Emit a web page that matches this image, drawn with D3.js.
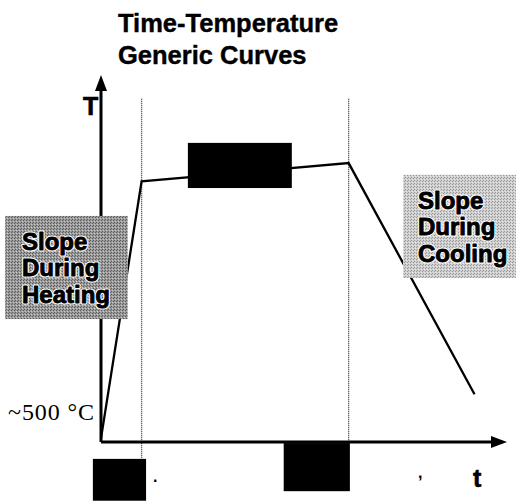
<!DOCTYPE html>
<meta charset="utf-8">
<style>
  body { margin: 0; background: #fff; }
  text { font-family: "Liberation Sans", Arial, sans-serif; }
  text.serif { font-family: "Liberation Serif", "Times New Roman", serif; }
</style>
<svg width="518" height="501"></svg>
<script src="https://d3js.org/d3.v7.min.js"></script>
<script>

// curve breakpoints: start, end of heating, end of hold, end of cooling
var times = [0, 10, 61, 92];
var temps = [1, 71, 76, 13];
var guideTimes = [10, 61];
var titleLines = ["Time-Temperature", "Generic Curves"];
var heatLabel = ["Slope", "During", "Heating"];
var coolLabel = ["Slope", "During", "Cooling"];
var startLabel = "~500 °C";
// annotation boxes in data units [t0, t1, T0, T1]
var heatBox = [-23.6, 6.6, 33.5, 61.6];
var coolBox = [74.4, 102.2, 44.7, 72.8];
var blackBoxes = [[21.4, 47, 69.2, 81.5], [-2, 11.1, -16, -4.6], [45, 61.3, -13.4, -0.3]];

var svg = d3.select("svg"),
    width = +svg.attr("width"),
    height = +svg.attr("height");

var x = d3.scaleLinear().domain([0, 100]).range([101, 507]);
var y = d3.scaleLinear().domain([0, 100]).range([442, 75]);

var defs = svg.append("defs");
function grain(id, dark, light) {
  var p = defs.append("pattern").attr("id", id)
      .attr("width", 3).attr("height", 3).attr("patternUnits", "userSpaceOnUse");
  p.append("rect").attr("width", 3).attr("height", 3).attr("fill", light);
  p.append("rect").attr("width", 1).attr("height", 1).attr("fill", dark);
  p.append("rect").attr("x", 2).attr("y", 1).attr("width", 1).attr("height", 1).attr("fill", dark);
  p.append("rect").attr("x", 1).attr("y", 2).attr("width", 1).attr("height", 1).attr("fill", "#fff").attr("opacity", 0.5);
}
grain("heatGrain", "#5e5e5e", "#9a9a9a");
grain("coolGrain", "#999", "#cfcfcf");

// title
svg.append("g").selectAll("text")
  .data(titleLines).enter().append("text")
    .attr("x", 118)
    .attr("y", function(d, i) { return 32 + i * 32; })
    .attr("font-size", 25.5)
    .attr("font-weight", "bold")
    .attr("stroke", "#000")
    .attr("stroke-width", 0.4)
    .text(function(d) { return d; });

// dotted guides
svg.append("g").selectAll("line")
  .data(guideTimes).enter().append("line")
    .attr("x1", function(d) { return x(d); })
    .attr("x2", function(d) { return x(d); })
    .attr("y1", y(93.5))
    .attr("y2", function(d, i) { return i == 0 ? y(-4.5) : y(0); })
    .attr("stroke", "#333")
    .attr("stroke-width", 1.3)
    .attr("stroke-dasharray", "1,1");

// axes with arrow heads
svg.append("line")
    .attr("x1", x(0)).attr("y1", y(0)).attr("x2", x(0)).attr("y2", y(97))
    .attr("stroke", "#000").attr("stroke-width", 3);
svg.append("line")
    .attr("x1", x(0)).attr("y1", y(0)).attr("x2", x(97)).attr("y2", y(0))
    .attr("stroke", "#000").attr("stroke-width", 3);
svg.append("path")
    .attr("d", "M" + x(0) + "," + y(100) + "l-6,16h12z")
    .attr("fill", "#000");
svg.append("path")
    .attr("d", "M" + x(100) + "," + y(0) + "l-16,-6v12z")
    .attr("fill", "#000");

// curve
var line = d3.line()
    .x(function(d) { return x(d[0]); })
    .y(function(d) { return y(d[1]); });
svg.append("path")
    .datum(d3.zip(times, temps))
    .attr("d", line)
    .attr("fill", "none")
    .attr("stroke", "#000")
    .attr("stroke-width", 2.3);

// shaded label boxes, pasted over the curve and axis
function labelBox(box, fill, lines, tx) {
  svg.append("rect")
      .attr("x", x(box[0])).attr("y", y(box[3]))
      .attr("width", x(box[1]) - x(box[0]))
      .attr("height", y(box[2]) - y(box[3]))
      .attr("fill", "url(#" + fill + ")");
  var g = svg.append("g");
  [["#fff", 3], ["#000", 0.9]].forEach(function(s) {
    g.append("g").selectAll("text")
      .data(lines).enter().append("text")
        .attr("x", tx)
        .attr("y", function(d, i) { return y(box[3]) + 34 + i * 26.5; })
        .attr("font-size", 24)
        .attr("font-weight", "bold")
        .attr("fill", "#000")
        .attr("stroke", s[0])
        .attr("stroke-width", s[1])
        .attr("stroke-linejoin", "round")
        .text(function(d) { return d; });
  });
}
labelBox(heatBox, "heatGrain", heatLabel, 22);
labelBox(coolBox, "coolGrain", coolLabel, 418);

// blacked-out labels
svg.append("g").selectAll("rect")
  .data(blackBoxes).enter().append("rect")
    .attr("x", function(d) { return x(d[0]); })
    .attr("y", function(d) { return y(d[3]); })
    .attr("width", function(d) { return x(d[1]) - x(d[0]); })
    .attr("height", function(d) { return y(d[2]) - y(d[3]); })
    .attr("fill", "#000");

// axis labels
svg.append("text")
    .attr("x", 83).attr("y", 115)
    .attr("font-size", 25).attr("font-weight", "bold")
    .attr("stroke", "#000").attr("stroke-width", 0.6)
    .text("T");
svg.append("text")
    .attr("x", 473).attr("y", 487)
    .attr("font-size", 25).attr("font-weight", "bold")
    .attr("stroke", "#000").attr("stroke-width", 0.6)
    .text("t");
svg.append("text")
    .attr("class", "serif")
    .attr("x", 8).attr("y", 420)
    .attr("font-size", 24)
    .attr("textLength", 86)
    .text(startLabel);

// scan specks
svg.append("text").attr("x", 153).attr("y", 482).attr("font-size", 16).attr("font-weight", "bold").text(".");
svg.append("text").attr("x", 418).attr("y", 478).attr("font-size", 16).attr("font-weight", "bold").text(",");

</script>
